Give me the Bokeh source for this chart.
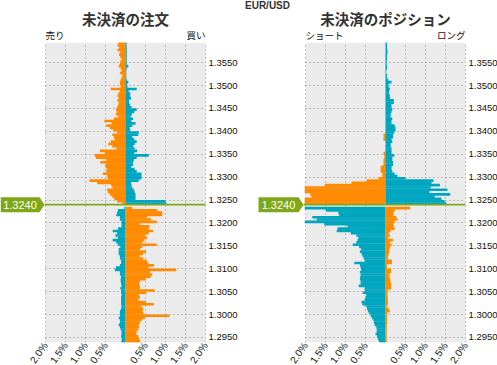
from bokeh.plotting import figure
from bokeh.models import FixedTicker, CustomJSTickFormatter, NumeralTickFormatter, Range1d, Grid
from bokeh.layouts import row
from bokeh.core.properties import value
from bokeh.embed import file_html
from bokeh.resources import INLINE

# ---------------- data ----------------
SYMBOL = "EUR/USD"
CURRENT_PRICE = 1.3240
LEVEL_STEP = 0.0005
PRICE_TICKS = [1.2950, 1.3000, 1.3050, 1.3100, 1.3150, 1.3200, 1.3250,
               1.3300, 1.3350, 1.3400, 1.3450, 1.3500, 1.3550]
PCT_TICKS = [-2.0, -1.5, -1.0, -0.5, 0.5, 1.0, 1.5, 2.0]

# Open orders (%). "above": levels from the current price upward,
# "below": levels from the current price downward.
orders_sell_above = [0.08, 0.21, 0.28, 0.33, 0.39, 0.44, 0.46, 0.33, 0.36, 0.71,
                     0.90, 0.44, 0.46, 0.57, 0.48, 0.46, 0.50, 0.50, 0.63, 0.48,
                     0.74, 0.77, 0.52, 0.64, 0.23, 0.33, 0.43, 0.37, 0.27, 0.29,
                     0.33, 0.21, 0.31, 0.39, 0.48, 0.35, 0.53, 0.29, 0.18, 0.24,
                     0.21, 0.24, 0.21, 0.18, 0.17, 0.20, 0.17, 0.20, 0.18, 0.14,
                     0.37, 0.12, 0.14, 0.14, 0.12, 0.10, 0.08, 0.14, 0.10, 0.12,
                     0.17, 0.14, 0.13, 0.10, 0.13, 0.16, 0.13, 0.20, 0.16, 0.20,
                     0.18, 0.20]
orders_buy_above = [1.02, 1.00, 0.25, 0.25, 0.25, 0.23, 0.21, 0.17, 0.15, 0.14,
                    0.33, 0.40, 0.40, 0.40, 0.28, 0.23, 0.14, 0.19, 0.19, 0.21,
                    0.28, 0.58, 0.22, 0.29, 0.23, 0.19, 0.23, 0.28, 0.22, 0.17,
                    0.32, 0.33, 0.12, 0.11, 0.17, 0.25, 0.15, 0.19, 0.13, 0.16,
                    0.22, 0.28, 0.15, 0.11, 0.09, 0.09, 0.14, 0.11, 0.12, 0.08,
                    0.28, 0.05, 0.04, 0.07, 0.03, 0.02, 0.02, 0.02, 0.02, 0.03,
                    0.07, 0.03, 0.03, 0.03, 0.03, 0.03, 0.03, 0.03, 0.03, 0.03,
                    0.03, 0.03]
orders_sell_below = [0.03, 0.19, 0.21, 0.23, 0.14, 0.14, 0.10, 0.10, 0.10, 0.19,
                     0.32, 0.21, 0.25, 0.19, 0.32, 0.23, 0.19, 0.13, 0.17, 0.17,
                     0.17, 0.14, 0.14, 0.11, 0.11, 0.14, 0.24, 0.27, 0.14, 0.14,
                     0.11, 0.12, 0.12, 0.11, 0.10, 0.13, 0.11, 0.11, 0.10, 0.11,
                     0.11, 0.11, 0.11, 0.10, 0.11, 0.14, 0.14, 0.14, 0.17, 0.14,
                     0.14, 0.17, 0.14, 0.12, 0.10, 0.10, 0.11, 0.09, 0.10, 0.10]
orders_buy_below = [0.17, 0.79, 0.92, 0.92, 0.54, 0.64, 0.78, 0.35, 0.60, 0.58,
                    0.69, 0.58, 0.50, 0.54, 0.47, 0.42, 0.78, 0.42, 0.36, 0.51,
                    0.44, 0.36, 0.44, 0.53, 0.57, 0.71, 0.57, 1.27, 0.61, 0.67,
                    0.63, 0.51, 0.36, 0.34, 0.36, 0.36, 0.73, 0.52, 0.34, 0.36,
                    0.32, 0.51, 0.71, 0.40, 0.44, 0.43, 0.45, 1.10, 0.48, 0.40,
                    0.36, 0.33, 0.34, 0.32, 0.28, 0.27, 0.32, 0.34, 0.36, 0.40]

# Open positions (%)
pos_short_above = [2.30, 2.30, 2.30, 1.85, 1.88, 2.30, 2.30, 2.30, 1.52, 0.85,
                   0.47, 0.17, 0.08, 0.08, 0.12, 0.12, 0.12, 0.05, 0.05, 0.05,
                   0.03, 0.03, 0.05, 0.00, 0.00, 0.00, 0.00, 0.00, 0.05, 0.05,
                   0.05, 0.00, 0.00, 0.00, 0.00, 0.00, 0.00, 0.00, 0.00, 0.00,
                   0.00, 0.00, 0.00, 0.00, 0.00, 0.00, 0.00, 0.00, 0.00, 0.00,
                   0.00, 0.00, 0.00, 0.00, 0.00, 0.00, 0.00, 0.00, 0.00, 0.00,
                   0.00, 0.00, 0.00, 0.00, 0.00, 0.00, 0.00, 0.00, 0.00, 0.00,
                   0.00, 0.00]
pos_long_above = [1.52, 1.48, 1.40, 1.23, 1.62, 1.10, 1.55, 1.13, 1.36, 1.15,
                  1.20, 0.50, 0.30, 0.23, 0.17, 0.15, 0.15, 0.19, 0.19, 0.17,
                  0.17, 0.22, 0.15, 0.15, 0.15, 0.13, 0.13, 0.17, 0.15, 0.19,
                  0.19, 0.22, 0.25, 0.25, 0.23, 0.15, 0.15, 0.17, 0.13, 0.13,
                  0.15, 0.17, 0.15, 0.15, 0.21, 0.21, 0.11, 0.11, 0.09, 0.09,
                  0.11, 0.08, 0.08, 0.15, 0.07, 0.04, 0.04, 0.02, 0.02, 0.04,
                  0.04, 0.03, 0.03, 0.04, 0.04, 0.04, 0.05, 0.05, 0.04, 0.04,
                  0.04, 0.04]
pos_short_below = [2.20, 1.49, 1.18, 1.16, 1.83, 1.72, 2.20, 1.53, 0.95, 1.20,
                   1.22, 0.87, 0.73, 0.68, 0.70, 0.73, 0.82, 0.66, 0.61, 0.64,
                   0.60, 0.57, 0.54, 0.52, 0.78, 0.64, 0.62, 0.61, 0.64, 0.62,
                   0.63, 0.64, 0.62, 0.62, 0.67, 0.52, 0.52, 0.57, 0.48, 0.50,
                   0.52, 0.60, 0.58, 0.48, 0.46, 0.44, 0.40, 0.37, 0.34, 0.30,
                   0.29, 0.27, 0.23, 0.22, 0.22, 0.25, 0.21, 0.19, 0.17, 0.14]
pos_long_below = [0.62, 0.23, 0.20, 0.20, 0.27, 0.30, 0.23, 0.19, 0.21, 0.23,
                  0.13, 0.08, 0.11, 0.07, 0.19, 0.11, 0.15, 0.12, 0.10, 0.10,
                  0.08, 0.06, 0.06, 0.16, 0.16, 0.04, 0.04, 0.14, 0.14, 0.10,
                  0.10, 0.12, 0.12, 0.14, 0.14, 0.14, 0.06, 0.05, 0.05, 0.05,
                  0.06, 0.06, 0.06, 0.03, 0.08, 0.11, 0.04, 0.04, 0.04, 0.04,
                  0.04, 0.03, 0.03, 0.03, 0.03, 0.03, 0.03, 0.03, 0.03, 0.03]

# ---------------- style / layout ----------------
ORANGE = "#ff8a00"
CYAN = "#00a6c0"
GREEN = "#7fa818"
BG = "#ebebeb"
GRID = "#8a8a8a"
JP = "Noto Sans CJK JP"
LAT = "Liberation Sans"

XMIN, XMAX = -2.0, 2.0           # percent range of each panel
YMIN, YMAX = 1.2939, 1.3594      # price range of each panel
PLOT_W, PLOT_H = 160, 300         # grey plotting area in px
TOP_PX = 42                       # header room above the grey area
DX = (XMAX - XMIN) / PLOT_W       # data units per px
DY = (YMAX - YMIN) / PLOT_H
HAS_CROSS = "cross_bounds" in Grid.properties()


def make_panel(title, lab_l, lab_r, left_above, right_above, left_below, right_below,
               left_px, box_l_px, box_r_px, tip_px, symbol=None, symbol_px=0):
    xstart = XMIN - left_px * DX
    xend = XMAX + 1 * DX
    ytop = YMAX + TOP_PX * DY
    p = figure(frame_width=left_px + PLOT_W + 1, frame_height=TOP_PX + PLOT_H,
               x_range=Range1d(xstart, xend), y_range=Range1d(YMIN, ytop),
               y_axis_location="right", output_backend="svg", toolbar_location=None,
               title=None, min_border_left=0, min_border_right=0,
               min_border_top=0, min_border_bottom=0,
               background_fill_color="white", border_fill_color="white",
               outline_line_color=None)

    # grey plotting area (under the grid)
    p.quad(left=[XMIN], right=[XMAX], bottom=[YMIN], top=[YMAX],
           fill_color=BG, line_color=None, level="image")

    above = [CURRENT_PRICE + LEVEL_STEP * (k + 0.5) for k in range(len(left_above))]
    below = [CURRENT_PRICE - LEVEL_STEP * (j + 1.5) for j in range(len(left_below))]
    hh = LEVEL_STEP * 1.15
    p.hbar(y=above, height=hh, left=[-v for v in left_above], right=0,
           fill_color=ORANGE, line_color=None)
    p.hbar(y=above, height=hh, left=0, right=right_above,
           fill_color=CYAN, line_color=None)
    p.hbar(y=below, height=hh, left=[-v for v in left_below], right=0,
           fill_color=CYAN, line_color=None)
    p.hbar(y=below, height=hh, left=0, right=right_below,
           fill_color=ORANGE, line_color=None)

    # white masks outside the grey area (hide grid / overflowing bars)
    p.quad(left=[xstart - 10 * DX], right=[XMIN - 0.8 * DX], bottom=[YMIN - 10 * DY],
           top=[ytop + 10 * DY], fill_color="white", line_color=None)
    p.quad(left=[xstart - 10 * DX], right=[xend + 10 * DX], bottom=[YMAX],
           top=[ytop + 10 * DY], fill_color="white", line_color=None)

    # axes
    xa = p.xaxis[0]
    xa.ticker = FixedTicker(ticks=PCT_TICKS)
    xa.formatter = CustomJSTickFormatter(code="return Math.abs(tick).toFixed(1) + '%';")
    xa.major_label_orientation = 0.96
    xa.major_label_text_font = LAT
    xa.major_label_text_font_size = "10px"
    xa.major_label_text_color = "#111111"
    xa.major_label_standoff = 1
    ya = p.yaxis[0]
    ya.ticker = FixedTicker(ticks=PRICE_TICKS)
    ya.formatter = NumeralTickFormatter(format="0.0000")
    ya.major_label_text_font = LAT
    ya.major_label_text_font_size = "9.5px"
    ya.major_label_text_color = "#111111"
    ya.major_label_standoff = 2
    for ax in (xa, ya):
        ax.axis_line_color = None
        ax.major_tick_line_color = None
        ax.minor_tick_line_color = None
        ax.major_tick_out = 0
        ax.major_tick_in = 0
        ax.minor_tick_out = 0
        ax.minor_tick_in = 0

    for g in (p.xgrid[0], p.ygrid[0]):
        g.grid_line_color = GRID
        g.grid_line_dash = "1 3"
        g.grid_line_width = 1
    p.xgrid[0].ticker = FixedTicker(ticks=PCT_TICKS)
    p.ygrid[0].ticker = FixedTicker(ticks=PRICE_TICKS)
    if HAS_CROSS:
        p.xgrid[0].cross_bounds = (YMIN, YMAX)
        p.ygrid[0].cross_bounds = (XMIN, XMAX)

    # current price marker and line
    tip = XMIN - tip_px * DX
    box_r = XMIN - box_r_px * DX
    box_l = XMIN - box_l_px * DX
    half = 7.5 * DY
    p.patch(x=[box_l, box_r, tip, box_r, box_l],
            y=[CURRENT_PRICE + half, CURRENT_PRICE + half, CURRENT_PRICE,
               CURRENT_PRICE - half, CURRENT_PRICE - half],
            fill_color=GREEN, line_color=None)
    p.text(x=[(box_l + box_r) / 2], y=[CURRENT_PRICE], text=[f"{CURRENT_PRICE:.4f}"],
           text_align="center", text_baseline="middle", text_color="white",
           text_font=value(LAT), text_font_size="11px")
    p.segment(x0=[tip], y0=[CURRENT_PRICE], x1=[XMAX], y1=[CURRENT_PRICE],
              line_color=GREEN, line_width=1.6)

    # header texts
    p.text(x=[(XMIN + XMAX) / 2], y=[YMAX + 24 * DY], text=[title],
           text_align="center", text_baseline="middle", text_color="#333333",
           text_font=value(JP), text_font_size="14.5px", text_font_style="bold")
    p.text(x=[XMIN], y=[YMAX + 1 * DY], text=[lab_l], text_align="left",
           text_baseline="bottom", text_color="#111111",
           text_font=value(JP), text_font_size="9.5px")
    p.text(x=[XMAX], y=[YMAX + 1 * DY], text=[lab_r], text_align="right",
           text_baseline="bottom", text_color="#111111",
           text_font=value(JP), text_font_size="9.5px")
    if symbol:
        p.text(x=[xstart + symbol_px * DX], y=[YMAX + 37 * DY], text=[symbol],
               text_align="center", text_baseline="middle", text_color="#333333",
               text_font=value(LAT), text_font_size="10px", text_font_style="bold")
    return p


p1 = make_panel("未決済の注文", "売り", "買い",
                orders_sell_above, orders_buy_above, orders_sell_below, orders_buy_below,
                left_px=45, box_l_px=45, box_r_px=6, tip_px=1)
p2 = make_panel("未決済のポジション", "ショート", "ロング",
                pos_short_above, pos_long_above, pos_short_below, pos_long_below,
                left_px=65, box_l_px=47, box_r_px=7, tip_px=2,
                symbol=SYMBOL, symbol_px=27)

p = row(p1, p2)
open("out.html", "w").write(file_html(p, INLINE))
